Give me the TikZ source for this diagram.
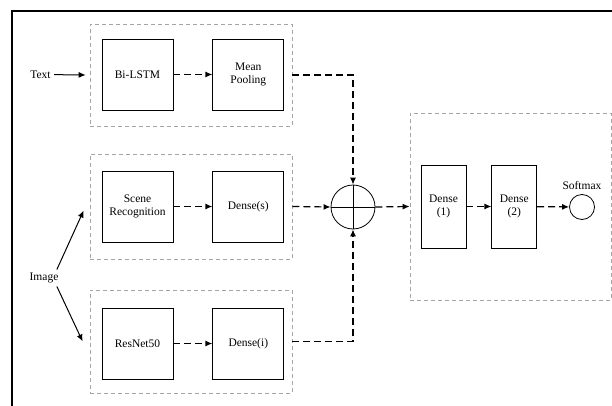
\documentclass[tikz,border=0pt]{standalone}
\usepackage{fontspec}
\setmainfont{Liberation Serif}
\usetikzlibrary{positioning,arrows.meta,calc}
\definecolor{GroupGray}{RGB}{165,165,165}

\begin{document}
\begin{tikzpicture}[
  x=1pt, y=-1pt,
  font=\fontsize{11.5}{13.5}\selectfont,
  >={Latex[length=7pt,width=6pt]},
  block/.style={
    rectangle, draw=black, line width=0.8pt, fill=white,
    minimum width=71pt, minimum height=71pt, inner sep=0pt, align=center
  },
  headblock/.style={block, minimum width=45pt, minimum height=83pt},
  group/.style={
    rectangle, draw=GroupGray, line width=0.7pt, dash pattern=on 4pt off 3pt,
    inner sep=0pt
  },
  feed/.style={->, line width=1pt},
  flow/.style={->, line width=1.2pt, dash pattern=on 7pt off 4pt}
]
\useasboundingbox (0,0) rectangle (612,406);

% --- frame ---
\draw[line width=1.8pt] (12,406) -- (12,11) -- (612,11);

% --- GROUPS ---
\node[group, minimum width=202pt, minimum height=102pt] (textgrp) at (191,75) {};
\node[group, minimum width=202pt, minimum height=105pt] (scenegrp) at (191,206.5) {};
\node[group, minimum width=202pt, minimum height=103pt] (resgrp) at (191,341.5) {};
\node[group, minimum width=201pt, minimum height=187pt] (headgrp) at (510.5,206.5) {};

% --- TEXT BRANCH ---
\node[block] (lstm) at (137.5,74.5) {Bi-LSTM};
\node[block, right=39pt of lstm] (pool) {Mean\\Pooling};
\node (txt) at (40.5,74.5) {Text};

% --- IMAGE BRANCHES ---
\node[block] (scene) at (137.5,206.5) {Scene\\Recognition};
\node[block, right=39pt of scene] (denses) {Dense(s)};
\node[block] (resnet) at (137.5,343.5) {ResNet50};
\node[block, right=39pt of resnet] (densei) {Dense(i)};
\node (img) at (44,278) {Image};

% --- FUSION + HEAD ---
\node[circle, draw, line width=0.8pt, minimum size=44pt, inner sep=0pt] (sum) at (353,207) {};
\draw[line width=1pt] (sum.north) -- (sum.south);
\draw[line width=1pt] (sum.west) -- (sum.east);
\node[headblock] (dense1) at (443.5,206.5) {Dense\\(1)};
\node[headblock, right=25pt of dense1] (dense2) {Dense\\(2)};
\node[circle, draw, line width=0.8pt, minimum size=25pt, inner sep=0pt] (soft) at (582,207) {};
\node[above=1pt of soft] (softlbl) {Softmax};

% --- connectors ---
\draw[feed] (txt) -- ($(textgrp.west)+(-4,0)$);
\draw[feed] ($(img.north east)+(-5,0)$) -- ($(scenegrp.west)+(-6,4)$);
\draw[feed] ($(img.south east)+(-5,0)$) -- ($(resgrp.west)+(-7,0)$);
\draw[flow] (lstm) -- (pool);
\draw[flow] (scene) -- (denses);
\draw[flow] (resnet) -- (densei);
\draw[flow] (textgrp.east) -| (sum.north);
\draw[flow] (scenegrp.east) -- (sum.west);
\draw[flow] (resgrp.east) -| (sum.south);
\draw[flow] (sum.east) -- (headgrp.west);
\draw[flow] (dense1) -- (dense2);
\draw[flow] (dense2) -- (soft);

\end{tikzpicture}
\end{document}
